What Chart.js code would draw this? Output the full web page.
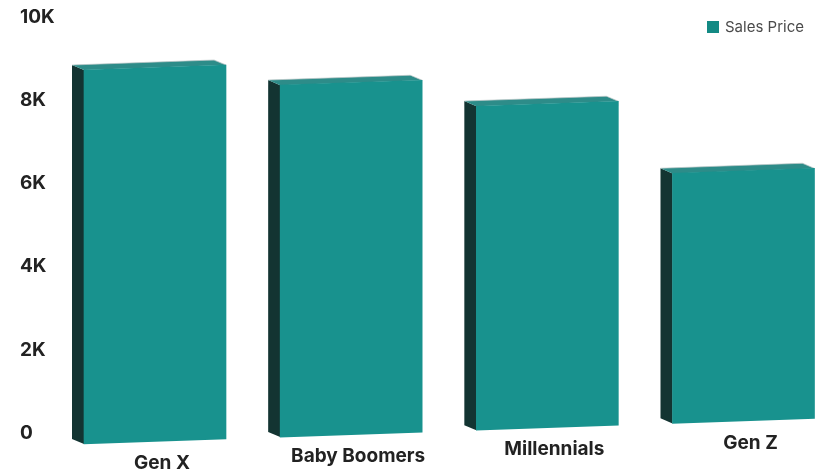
<!DOCTYPE html>
<html>
<head>
<meta charset="utf-8">
<script src="https://cdn.jsdelivr.net/npm/chart.js@4.4.1/dist/chart.umd.min.js"></script>
<style>
	body { margin: 0; background: #fff; }
	#wrap { position: relative; width: 819px; height: 471px; }
	#legend { position: absolute; top: 17px; left: 707px; display: flex; align-items: center;
		font: 400 15px Inter, sans-serif; color: #4a4a4a; }
	#legend .box { width: 12px; height: 12px; margin-right: 6px; }
</style>
</head>
<body>
<div id="wrap">
	<canvas id="graph" width="819" height="471"></canvas>
	<div id="legend"></div>
</div>
<script>
const categories = ['Gen X', 'Baby Boomers', 'Millennials', 'Gen Z'];
const salesPrice = [8990, 8460, 7790, 6010];
const yTicks = [0, 2000, 4000, 6000, 8000, 10000];

// bars lean up to the right: y is shifted by SKEW per pixel of x around PIVOT_X
const SKEW = -0.035;
const PIVOT_X = 398;
const DEPTH_X = -12;
const DEPTH_Y = -5.5;
const LABEL_DROP = 22;

const tiltedBars = {
	id: 'tiltedBars',
	beforeDatasetsDraw(chart) {
		const ctx = chart.ctx;
		ctx.save();
		ctx.transform(1, SKEW, 0, 1, 0, -SKEW * PIVOT_X);
		chart.getDatasetMeta(0).data.forEach(bar => {
			const { x, y, base, width } = bar.getProps(['x', 'y', 'base', 'width'], true);
			const l = x - width / 2;
			const r = x + width / 2;

			// dark side face
			ctx.fillStyle = '#133432';
			ctx.beginPath();
			ctx.moveTo(l, y);
			ctx.lineTo(l + DEPTH_X, y + DEPTH_Y);
			ctx.lineTo(l + DEPTH_X, base + DEPTH_Y);
			ctx.lineTo(l, base);
			ctx.closePath();
			ctx.fill();

			// top face
			ctx.fillStyle = '#2d8c89';
			ctx.beginPath();
			ctx.moveTo(l, y);
			ctx.lineTo(r, y);
			ctx.lineTo(r + DEPTH_X, y + DEPTH_Y);
			ctx.lineTo(l + DEPTH_X, y + DEPTH_Y);
			ctx.closePath();
			ctx.fill();

			ctx.strokeStyle = 'rgba(190,200,200,0.7)';
			ctx.lineWidth = 1;
			ctx.beginPath();
			ctx.moveTo(l + DEPTH_X, y + DEPTH_Y);
			ctx.lineTo(r + DEPTH_X, y + DEPTH_Y);
			ctx.lineTo(r, y);
			ctx.stroke();
		});
	},
	afterDatasetsDraw(chart) {
		chart.ctx.restore();
	}
};

// x labels follow the same lean as the bars
function xLabelFont(c) {
	let px = c.scale ? c.scale.getPixelForTick(c.index) : PIVOT_X;
	if (!isFinite(px)) px = PIVOT_X;
	const drop = LABEL_DROP + SKEW * (px - PIVOT_X);
	return { family: 'Inter', size: 19, weight: '700', lineHeight: (2 * drop) + 'px' };
}

const ctx = document.getElementById('graph').getContext('2d');

const myChart = new Chart(ctx, {
	type: 'bar',
	data: {
		labels: categories,
		datasets: [{
			label: 'Sales Price',
			data: salesPrice,
			backgroundColor: '#18928e',
			barThickness: 142,
			clip: false
		}]
	},
	options: {
		responsive: false,
		animation: false,
		layout: {
			padding: { left: 20, right: 75.5, top: 17, bottom: 0 }
		},
		plugins: {
			legend: { display: false },
			tooltip: { enabled: false }
		},
		scales: {
			x: {
				offset: false,
				grid: { display: false, drawTicks: false },
				border: { display: false },
				ticks: {
					padding: 0,
					labelOffset: 7,
					color: '#222',
					font: xLabelFont
				},
				afterFit(scale) {
					scale.height = 38;
				}
			},
			y: {
				min: 0,
				max: 10000,
				grid: { display: false },
				border: { display: false },
				afterBuildTicks(scale) {
					scale.ticks = yTicks.map(v => ({ value: v }));
				},
				ticks: {
					crossAlign: 'far',
					color: '#222',
					font: { family: 'Inter', size: 19, weight: '700' },
					callback: v => v === 0 ? '0' : (v / 1000) + 'K'
				},
				afterFit(scale) {
					scale.width = 135;
				}
			}
		}
	},
	plugins: [tiltedBars]
});

// html legend from the dataset
const legend = document.getElementById('legend');
myChart.data.datasets.forEach(ds => {
	const box = document.createElement('span');
	box.className = 'box';
	box.style.background = '#138a84';
	legend.appendChild(box);
	legend.appendChild(document.createTextNode(ds.label));
});
</script>
</body>
</html>
